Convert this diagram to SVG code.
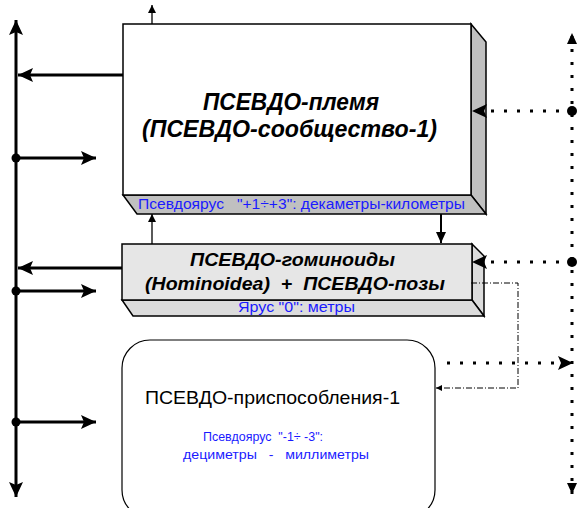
<svg xmlns="http://www.w3.org/2000/svg" width="578" height="508" viewBox="0 0 578 508">
<style>
.face{stroke:#000;stroke-width:1.5;stroke-linejoin:miter}
.title{font-family:"Liberation Sans",Arial,sans-serif;font-weight:bold;font-style:italic;fill:#000;text-anchor:middle;white-space:pre}
.blue{font-family:"Liberation Sans",Arial,sans-serif;fill:#1a1aff;text-anchor:middle;white-space:pre}
.plain{font-family:"Liberation Sans",Arial,sans-serif;fill:#000;text-anchor:middle}
.thick{stroke:#000;stroke-width:3;fill:none}
.thin{stroke:#000;stroke-width:1.3;fill:none}
.dotted{stroke:#000;stroke-width:3;fill:none;stroke-dasharray:3 10}
.dashdot{stroke:#000;stroke-width:1;fill:none;stroke-dasharray:6 2 1 2}
.dot{fill:#000}
</style>
<defs>
<marker id="big" markerUnits="userSpaceOnUse" markerWidth="16" markerHeight="14" refX="15" refY="7" orient="auto-start-reverse">
<path d="M0,0 L15,7 L0,14 L3,7 z" fill="#000"/>
</marker>
<marker id="mid" markerUnits="userSpaceOnUse" markerWidth="12" markerHeight="12" refX="11" refY="5" orient="auto-start-reverse">
<path d="M0,0 L11,5 L0,10 z" fill="#000"/>
</marker>
<marker id="small" markerUnits="userSpaceOnUse" markerWidth="9" markerHeight="8" refX="8" refY="4" orient="auto">
<path d="M0,0 L8,4 L0,8 z" fill="#000"/>
</marker>
<marker id="tiny" markerUnits="userSpaceOnUse" markerWidth="7" markerHeight="7" refX="6" refY="3" orient="auto">
<path d="M0,0 L6,3 L0,6 z" fill="#000"/>
</marker>
</defs>

<g id="node-tribe">
<polygon class="face" fill="#c0c0c0" points="471,24 486,42 486,214 471,195"/>
<polygon class="face" fill="#c0c0c0" points="123,195 471,195 486,214 137,214"/>
<rect class="face" fill="#fff" x="123" y="24" width="348" height="171"/>
<text class="title" font-size="23" x="291" y="110" textLength="176" lengthAdjust="spacingAndGlyphs">ПСЕВДО-племя</text>
<text class="title" font-size="23" x="289.5" y="137" textLength="295" lengthAdjust="spacingAndGlyphs">(ПСЕВДО-сообщество-1)</text>
<text class="blue" font-size="14" x="301.5" y="209" textLength="327" lengthAdjust="spacingAndGlyphs">Псевдоярус   "+1÷+3": декаметры-километры</text>
</g>

<g id="node-hominoids">
<polygon class="face" fill="#dcdcdc" points="472,244 484,256 484,316 472,300"/>
<polygon class="face" fill="#dcdcdc" points="122,300 472,300 484,316 133,316"/>
<rect class="face" fill="#e6e6e6" x="122" y="244" width="350" height="56"/>
<text class="title" font-size="19" x="292.5" y="266" textLength="205" lengthAdjust="spacingAndGlyphs">ПСЕВДО-гоминоиды</text>
<text class="title" font-size="19" x="295" y="290" textLength="300" lengthAdjust="spacingAndGlyphs">(Hominoidea)  +  ПСЕВДО-позы</text>
<text class="blue" font-size="14" x="296.5" y="312" textLength="117" lengthAdjust="spacingAndGlyphs">Ярус "0": метры</text>
</g>

<g id="node-adaptations">
<rect class="face" style="stroke-width:1.2" fill="#fff" x="122" y="340" width="313" height="178" rx="28" ry="28"/>
<text class="plain" font-size="19" x="272.5" y="404" textLength="255" lengthAdjust="spacingAndGlyphs">ПСЕВДО-приспособления-1</text>
<text class="blue" font-size="13" x="263" y="441" textLength="120" lengthAdjust="spacingAndGlyphs" style="white-space:pre">Псевдоярус  "-1÷ -3":</text>
<text class="blue" font-size="13" x="276" y="459" textLength="186" lengthAdjust="spacingAndGlyphs">дециметры   -   миллиметры</text>
</g>

<g id="connectors">
<line class="thick" x1="16" y1="497" x2="16" y2="20" marker-start="url(#big)" marker-end="url(#big)"/>
<line class="thick" x1="123" y1="75" x2="18" y2="75" marker-end="url(#big)"/>
<line class="thick" x1="16" y1="158" x2="96" y2="158" marker-end="url(#big)"/>
<line class="thick" x1="122" y1="268" x2="18" y2="268" marker-end="url(#big)"/>
<line class="thick" x1="16" y1="291" x2="96" y2="291" marker-end="url(#big)"/>
<line class="thick" x1="16" y1="422" x2="96" y2="422" marker-end="url(#big)"/>
<circle class="dot" cx="16" cy="158" r="4.5"/>
<circle class="dot" cx="16" cy="291" r="4.5"/>
<circle class="dot" cx="16" cy="422" r="4.5"/>
<line class="thin" x1="152" y1="24" x2="152" y2="5" marker-end="url(#small)"/>
<line class="thin" x1="152" y1="244" x2="152" y2="214" marker-end="url(#small)"/>
<line class="thick" style="stroke-width:2" x1="441" y1="214" x2="441" y2="243" marker-end="url(#mid)"/>
<line class="dotted" x1="572" y1="494" x2="572" y2="33" marker-start="url(#mid)" marker-end="url(#mid)"/>
<line class="dotted" x1="572" y1="111" x2="472" y2="111" marker-end="url(#big)"/>
<line class="dotted" x1="572" y1="262" x2="472" y2="262" marker-end="url(#big)"/>
<line class="dotted" x1="447" y1="363" x2="573" y2="363" marker-end="url(#big)"/>
<circle class="dot" cx="572" cy="111" r="5"/>
<circle class="dot" cx="572" cy="262" r="5"/>
<path class="dashdot" d="M471,283 H518 V388 H436" marker-end="url(#tiny)"/>
</g>
</svg>
